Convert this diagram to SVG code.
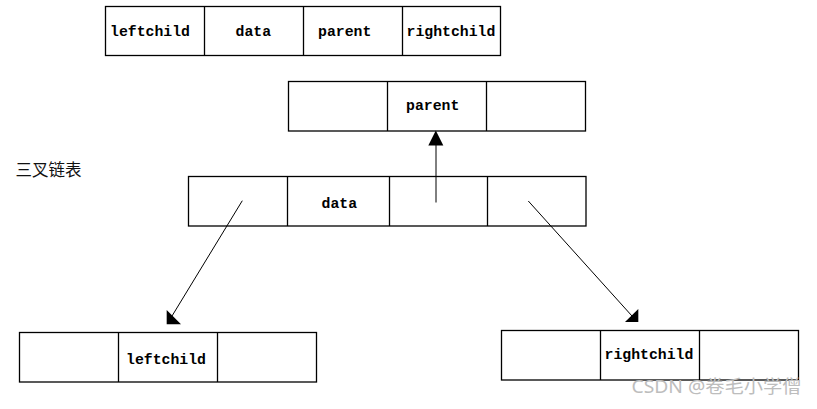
<svg xmlns="http://www.w3.org/2000/svg" width="817" height="409" viewBox="0 0 817 409">
<style>
.box{fill:#fff;stroke:#000;stroke-width:1.3}
.div{stroke:#000;stroke-width:1.3}
.lbl{font-family:"Liberation Mono",monospace;font-weight:bold;font-size:14.8px;fill:#000}
.conn{stroke:#000;stroke-width:1;fill:none}
.head{fill:#000}
.cap{font-family:"Noto Sans CJK SC",sans-serif;font-size:16.5px;fill:#111}
.wm{font-family:"Noto Sans","Noto Sans CJK SC",sans-serif;font-size:18px;fill:#bdbdbd}
</style>
<rect width="817" height="409" fill="#fff"/>
<g id="struct">
<rect class="box" x="105.5" y="6.5" width="395" height="49"/>
<line class="div" x1="204.5" y1="6.5" x2="204.5" y2="55.5"/>
<line class="div" x1="303.5" y1="6.5" x2="303.5" y2="55.5"/>
<line class="div" x1="402.5" y1="6.5" x2="402.5" y2="55.5"/>
<text class="lbl" x="110" y="35.5">leftchild</text>
<text class="lbl" x="235.5" y="35.5">data</text>
<text class="lbl" x="318" y="35.5">parent</text>
<text class="lbl" x="406.5" y="35.5">rightchild</text>
</g>
<g id="parent-node">
<rect class="box" x="288.5" y="81.5" width="297" height="49.5"/>
<line class="div" x1="387.5" y1="81.5" x2="387.5" y2="131"/>
<line class="div" x1="486.5" y1="81.5" x2="486.5" y2="131"/>
<text class="lbl" x="406" y="110">parent</text>
</g>
<g id="data-node">
<rect class="box" x="188.5" y="176.5" width="397.5" height="49.5"/>
<line class="div" x1="287.5" y1="176.5" x2="287.5" y2="226"/>
<line class="div" x1="389.5" y1="176.5" x2="389.5" y2="226"/>
<line class="div" x1="487.5" y1="176.5" x2="487.5" y2="226"/>
<text class="lbl" x="321.5" y="207.5">data</text>
</g>
<g id="left-node">
<rect class="box" x="19.5" y="332.5" width="297" height="49.5"/>
<line class="div" x1="118.5" y1="332.5" x2="118.5" y2="382"/>
<line class="div" x1="217.5" y1="332.5" x2="217.5" y2="382"/>
<text class="lbl" x="126" y="363.5">leftchild</text>
</g>
<g id="right-node">
<rect class="box" x="501.5" y="330.5" width="297" height="49.5"/>
<line class="div" x1="600.5" y1="330.5" x2="600.5" y2="380"/>
<line class="div" x1="699.5" y1="330.5" x2="699.5" y2="380"/>
<text class="lbl" x="604.5" y="358.5">rightchild</text>
</g>
<g id="connectors">
<line class="conn" x1="436" y1="202.5" x2="436" y2="145"/>
<polygon class="head" points="435.8,130.5 428.3,145.5 443.3,145.5"/>
<line class="conn" x1="242.3" y1="200.7" x2="172" y2="316"/>
<polygon class="head" points="166.7,310 166.7,324.3 181,324.3"/>
<line class="conn" x1="528.3" y1="201" x2="632" y2="316"/>
<polygon class="head" points="625,322 638.3,322 638.3,309"/>
</g>
<g id="caption">
<text class="cap" x="15.5" y="175.5">三叉链表</text>
</g>
<g id="watermark">
<text class="wm" x="631.5" y="393" textLength="170" lengthAdjust="spacingAndGlyphs">CSDN @卷毛小学僧</text>
</g>
</svg>
